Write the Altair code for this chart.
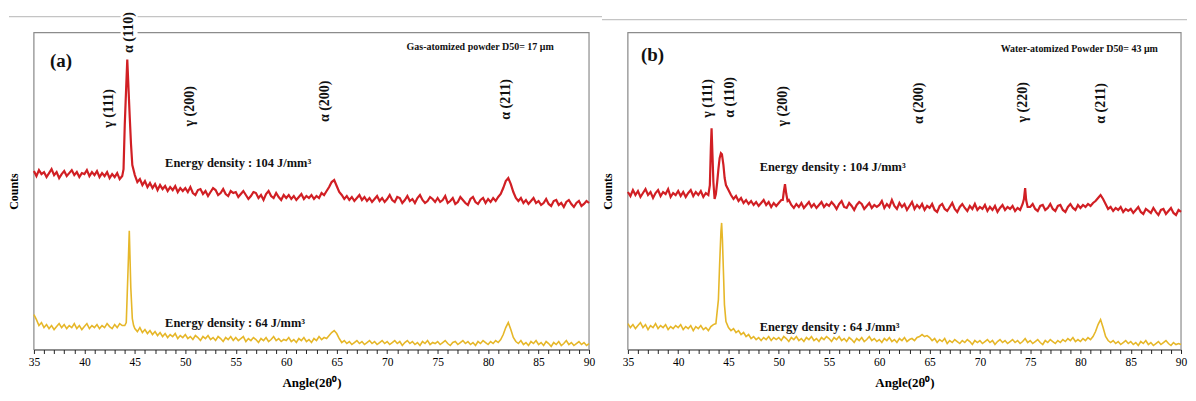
import altair as alt
import pandas as pd

SERIF = "Liberation Serif"
RED = "#d11f24"
YELLOW = "#e6b729"
FRAME = "#8c8c8c"

# Sampling grid: each row is one 5-degree band, 0.25 degree apart
ANGLE_START = 35.0
ANGLE_STEP = 0.25
BAND = 5.0

# ---------- panel (a): gas-atomized powder ----------
a104_rows = [
    [179,174,180,176,178,173,177,181,175,178,172,176,179,174,177,180,175,178,173,177],
    [176,180,174,178,175,179,173,177,174,178,172,176,173,177,171,174,225,291,232,185],
    [175,168,171,165,169,163,167,162,166,160,165,161,164,159,163,160,164,158,162,159],
    [162,158,163,157,155,160,161,156,159,154,158,162,160,155,157,161,156,154,159,157],
    [158,153,156,159,155,151,154,158,157,152,155,150,156,159,154,152,157,153,150,155],
    [152,155,151,154,150,153,156,151,154,152,155,151,154,152,157,155,159,163,168,170],
    [164,158,155,151,154,150,153,149,152,155,150,153,149,152,148,151,154,149,152,148],
    [151,155,150,148,153,152,147,150,154,149,151,147,152,155,150,147,149,153,151,148],
    [152,148,150,154,147,149,152,146,148,153,150,147,145,151,153,148,146,150,152,147],
    [151,148,152,149,153,156,162,169,172,166,158,152,149,152,147,150,146,149,152,147],
    [149,145,147,151,146,144,149,150,145,147,143,148,150,146,143,147,149,144,146,149],
    [147],
]
a104_fine = [(43.88, 181), (44.1, 252), (44.38, 260), (44.62, 206)]

a64_rows = [
    [35,30,24,27,22,25,21,24,20,23,26,22,25,21,24,22,26,21,24,20],
    [23,26,21,24,22,25,21,24,22,26,23,21,25,22,26,24,24,57,100,31],
    [21,18,22,17,20,16,19,15,18,14,17,13,16,12,15,13,16,11,14,12],
    [15,11,13,10,14,12,9,13,11,14,10,12,9,13,11,8,12,10,13,9],
    [12,9,11,13,8,11,9,12,10,7,11,9,12,8,10,13,9,11,8,10],
    [9,12,8,10,7,11,9,12,8,10,7,11,9,13,10,12,11,14,17,19],
    [16,11,7,9,6,8,5,7,9,6,8,5,7,9,6,8,5,7,9,6],
    [8,5,7,9,6,8,4,7,9,6,8,5,7,4,8,6,9,5,7,6],
    [8,5,7,9,6,4,7,8,5,7,9,6,8,5,7,4,8,6,9,7],
    [5,8,6,9,7,10,15,22,27,20,12,8,6,9,5,7,4,8,6,9],
    [5,7,4,8,6,3,7,5,8,4,6,9,5,7,4,6,8,5,7,4],
    [6],
]
a64_fine = [(44.15, 27), (44.32, 78), (44.45, 119), (44.6, 62), (44.88, 24)]

peaks_a_text = ["γ (111)", "α (110)", "γ (200)", "α (200)", "α (211)"]
peaks_a_angle = [42.4, 44.4, 50.5, 63.8, 81.8]
peaks_a_counts = [242, 318, 244, 249, 251]

# ---------- panel (b): water-atomized powder ----------
b104_rows = [
    [158,154,160,155,159,153,157,161,155,158,152,157,160,154,158,156,161,153,157,155],
    [159,154,158,153,157,160,154,158,155,159,153,157,155,203,168,156,181,197,185,165],
    [160,155,151,154,149,152,147,150,146,149,145,148,144,147,150,145,148,143,147,144],
    [147,150,158,156,150,145,142,146,143,147,142,145,148,143,146,142,145,148,143,146],
    [144,148,145,141,146,149,143,142,147,144,140,145,148,146,141,144,147,142,145,143],
    [145,149,142,146,143,150,144,141,147,143,146,140,144,148,141,145,142,146,140,144],
    [142,146,140,138,144,146,141,139,143,147,141,138,143,146,142,139,144,141,146,140],
    [143,141,145,139,143,140,144,138,142,145,140,143,141,144,139,142,140,146,162,143],
    [143,146,141,139,144,145,140,142,146,141,139,144,145,140,138,143,146,142,140,145],
    [142,145,143,146,144,147,149,152,155,151,146,141,143,139,142,140,143,138,141,139],
    [141,137,140,143,138,136,141,139,137,142,138,135,140,141,136,139,142,137,135,140],
    [138],
]
b104_fine = [(43.15, 165), (43.32, 222), (43.4, 198), (43.62, 151), (43.88, 168),
             (44.12, 192), (44.35, 196), (44.62, 172),
             (50.4, 150), (50.62, 166), (50.88, 149),
             (74.38, 151), (74.6, 150)]

b64_rows = [
    [26,22,25,21,24,27,22,25,20,24,22,26,21,24,22,25,20,23,21,24],
    [22,25,20,23,21,24,19,23,21,24,20,22,19,23,25,26,50,118,78,28],
    [22,19,21,17,19,15,17,13,15,11,13,10,12,9,12,10,13,9,12,10],
    [12,9,13,11,8,12,10,13,9,11,8,12,10,13,9,11,8,12,10,13],
    [11,8,12,10,13,9,11,8,12,10,7,11,9,12,8,10,13,9,11,8],
    [10,7,11,9,12,8,10,7,11,9,12,8,10,11,9,12,13,15,13,14],
    [12,9,11,7,10,8,11,6,9,7,10,8,6,9,7,10,8,5,9,7],
    [9,6,8,10,7,9,5,8,10,7,9,6,8,10,7,9,6,8,11,7],
    [9,6,8,10,7,5,9,7,10,8,6,9,7,10,8,11,9,12,8,10],
    [8,11,9,12,10,13,18,25,30,22,13,9,7,9,6,8,5,7,9,6],
    [8,5,7,4,8,6,9,5,7,4,6,8,5,7,9,6,4,7,5,6],
    [5],
]
b64_fine = [(44.12, 85), (44.32, 127), (44.4, 110), (44.6, 45)]

peaks_b_text = ["γ (111)", "α (110)", "γ (200)", "α (200)", "γ (220)", "α (211)"]
peaks_b_angle = [43.0, 45.2, 50.4, 63.9, 74.3, 82.0]
peaks_b_counts = [252, 253, 244, 247, 248, 247]

X_TICKS = list(range(35, 91))
Y_MAX = 318


def series(rows, fine):
    pts = {}
    for r, row in enumerate(rows):
        for i, v in enumerate(row):
            pts[round(ANGLE_START + BAND * r + ANGLE_STEP * i, 3)] = v
    for ang, v in fine:
        pts[ang] = v
    items = sorted(pts.items())
    return pd.DataFrame({"angle": [k for k, _ in items], "counts": [v for _, v in items]})


def x_enc():
    return alt.X("angle:Q",
                 scale=alt.Scale(domain=[35, 90], nice=False, zero=False),
                 axis=alt.Axis(values=X_TICKS, grid=False,
                               labelExpr="datum.value % 5 === 0 ? datum.label : ''",
                               labelFlush=False, labelOverlap=False,
                               labelFont=SERIF, labelFontSize=11.5, labelColor="black",
                               labelPadding=3,
                               tickSize=4, tickColor="#222", domainColor="#222",
                               title="Angle(2θ⁰)", titleFont=SERIF, titleFontSize=13,
                               titleFontWeight="bold", titleColor="black", titlePadding=9))


def y_enc():
    return alt.Y("counts:Q",
                 scale=alt.Scale(domain=[0, Y_MAX], nice=False, zero=False),
                 axis=alt.Axis(labels=False, ticks=False, grid=False, domainColor="#333",
                               title="Counts", titleFont=SERIF, titleFontSize=12,
                               titleFontWeight="bold", titleColor="black", titlePadding=13))


def txt_df(texts, angles, counts):
    return pd.DataFrame({"label": texts, "angle": angles, "counts": counts})


def panel(width, red_df, yel_df, peak_df, tag_df, note_df, energy_df,
          rule_x, rule_x2, rule_y, white_box=None):
    one = alt.Data(values=[{}])
    layers = []
    frame = alt.Chart(one).mark_rect(fill="white", stroke=FRAME, strokeWidth=1.2).encode(
        x=alt.value(0), x2=alt.value(width), y=alt.value(0), y2=alt.value(318))
    layers.append(frame)
    rule = alt.Chart(one).mark_rule(color="#c4c4c4", strokeWidth=1.2).encode(
        x=alt.value(rule_x), x2=alt.value(rule_x2), y=alt.value(rule_y))
    layers.append(rule)
    if white_box is not None:
        wb = alt.Chart(one).mark_rect(fill="white").encode(
            x=alt.value(white_box[0]), x2=alt.value(white_box[1]),
            y=alt.value(white_box[2]), y2=alt.value(white_box[3]))
        layers.append(wb)
    red = alt.Chart(red_df).mark_line(color=RED, strokeWidth=2.2).encode(x=x_enc(), y=y_enc())
    yel = alt.Chart(yel_df).mark_line(color=YELLOW, strokeWidth=1.6).encode(x=x_enc(), y=y_enc())
    peaks = alt.Chart(peak_df).mark_text(angle=270, font=SERIF, fontSize=14, fontWeight="bold",
                                         color="#111", align="center", baseline="middle").encode(
        x=x_enc(), y=y_enc(), text="label:N")
    tag = alt.Chart(tag_df).mark_text(font=SERIF, fontSize=19, fontWeight="bold", color="#111",
                                      align="left", baseline="middle").encode(
        x=x_enc(), y=y_enc(), text="label:N")
    note = alt.Chart(note_df).mark_text(font=SERIF, fontSize=10, fontWeight="bold", color="#111",
                                        align="right", baseline="middle").encode(
        x=x_enc(), y=y_enc(), text="label:N")
    energy = alt.Chart(energy_df).mark_text(font=SERIF, fontSize=12.5, fontWeight="bold",
                                            color="#111", align="left", baseline="middle").encode(
        x=x_enc(), y=y_enc(), text="label:N")
    layers += [red, yel, peaks, tag, note, energy]
    return alt.layer(*layers).properties(width=width, height=318)


panel_a = panel(
    557,
    series(a104_rows, a104_fine), series(a64_rows, a64_fine),
    txt_df(peaks_a_text, peaks_a_angle, peaks_a_counts),
    txt_df(["(a)"], [36.6], [289]),
    txt_df(["Gas-atomized powder D50= 17 μm"], [86.5], [304]),
    txt_df(["Energy density : 104 J/mm³", "Energy density : 64 J/mm³"], [48.0, 48.0], [187, 27]),
    -25, 570, -16,
    white_box=(87, 104, -24, 23),
)

panel_b = panel(
    555,
    series(b104_rows, b104_fine), series(b64_rows, b64_fine),
    txt_df(peaks_b_text, peaks_b_angle, peaks_b_counts),
    txt_df(["(b)"], [36.3], [295]),
    txt_df(["Water-atomized  Powder D50= 43 μm"], [87.7], [302]),
    txt_df(["Energy density : 104 J/mm³", "Energy density : 64 J/mm³"], [48.1, 48.1], [183, 23]),
    -26, 561, -13,
)

chart = alt.hconcat(panel_a, panel_b, spacing=39, bounds="flush").properties(
    padding=0
).configure_view(stroke=None)

chart.save("out.html", embed_options={"renderer": "svg", "actions": False})
